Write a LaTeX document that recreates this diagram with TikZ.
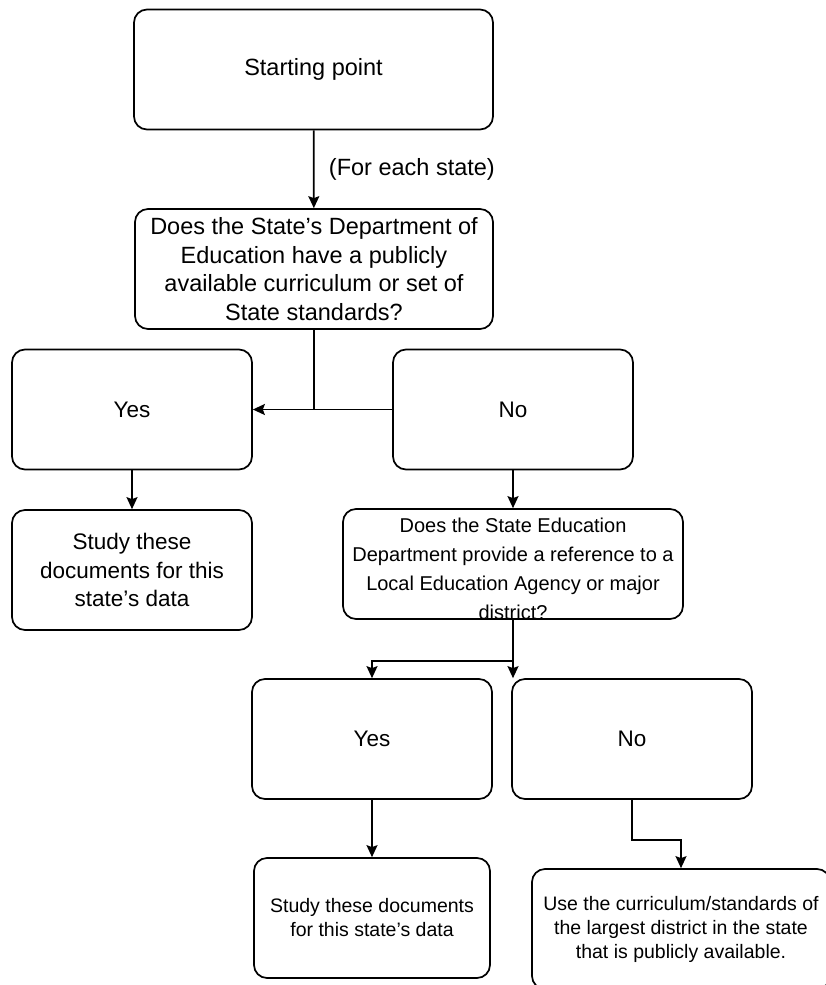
\documentclass[tikz,border=0pt]{standalone}
\usepackage{fontspec}
\setmainfont{Liberation Sans}
\usetikzlibrary{arrows.meta,positioning,calc}

\begin{document}
\begin{tikzpicture}[x = 1pt, y = -1pt,
		box/.style = {draw, line width = 1.7pt, rounded corners = 13pt, align = center, inner sep = 0pt},
		big/.style = {font = \fontsize{23.5}{28.7}\selectfont},
		mid/.style = {font = \fontsize{22.5}{28.5}\selectfont},
		yn/.style = {font = \fontsize{22.5}{26}\selectfont},
		small/.style = {font = \fontsize{19.5}{24}\selectfont},
		arr/.style = {line width = 1.7pt, -{Stealth[length = 12pt, width = 11pt, inset = 2pt]}},
		line/.style = {line width = 1.7pt}]
		\useasboundingbox (0,0) rectangle (826,985);
		\clip (0,0) rectangle (826,985);
		\node[box, big, minimum width = 359pt, minimum height = 120pt] (start) at (313.5,69.5) {Starting point};
		\node[box, big, minimum width = 358pt, minimum height = 120pt] (q1) at (314,269) {Does the State's Department of\\Education have a publicly\\available curriculum or set of\\State standards?};
		\node[box, yn, minimum width = 240pt, minimum height = 120pt] (yes1) at (132,409.5) {Yes};
		\node[box, yn, minimum width = 240pt, minimum height = 120pt] (no1) at (513,409.5) {No};
		\node[box, mid, minimum width = 240pt, minimum height = 120pt] (study1) at (132,570) {Study these\\documents for this\\state's data};
		\node[box, minimum width = 340pt, minimum height = 110pt,
			label = {[align = center, font = \fontsize{20}{29}\selectfont, yshift = -5pt]center:Does the State Education\\Department provide a reference to a\\Local Education Agency or major\\district?}] (q2) at (513,564) {};
		\node[box, yn, minimum width = 240pt, minimum height = 120pt] (yes2) at (372,739) {Yes};
		\node[box, yn, minimum width = 240pt, minimum height = 120pt] (no2) at (632,739) {No};
		\node[box, small, minimum width = 236pt, minimum height = 120pt] (study2) at (372,918) {Study these documents\\for this state's data};
		\node[box, small, minimum width = 298pt, minimum height = 120pt] (use) at (681,929) {Use the curriculum/standards of\\the largest district in the state\\that is publicly available.};
		\coordinate (j1) at (q1.south |- no1.west);
		\coordinate (j2) at ($(q2.south) + (0,41)$);
		\draw[arr] (start) -- node[big, right = 11pt] {(For each state)} (q1);
		\draw[line] (q1) -- (j1);
		\draw[arr] (no1) -- (yes1);
		\draw[arr] (yes1) -- (study1);
		\draw[arr] (no1) -- (q2);
		\draw[line] (q2) -- (j2);
		\draw[arr] (j2) -| (yes2);
		\draw[arr] (j2) -- (j2 |- yes2.north);
		\draw[arr] (yes2) -- (study2);
		\draw[arr] (no2.south) -- ++(0,40) -| (use);
	\end{tikzpicture}
\end{document}
